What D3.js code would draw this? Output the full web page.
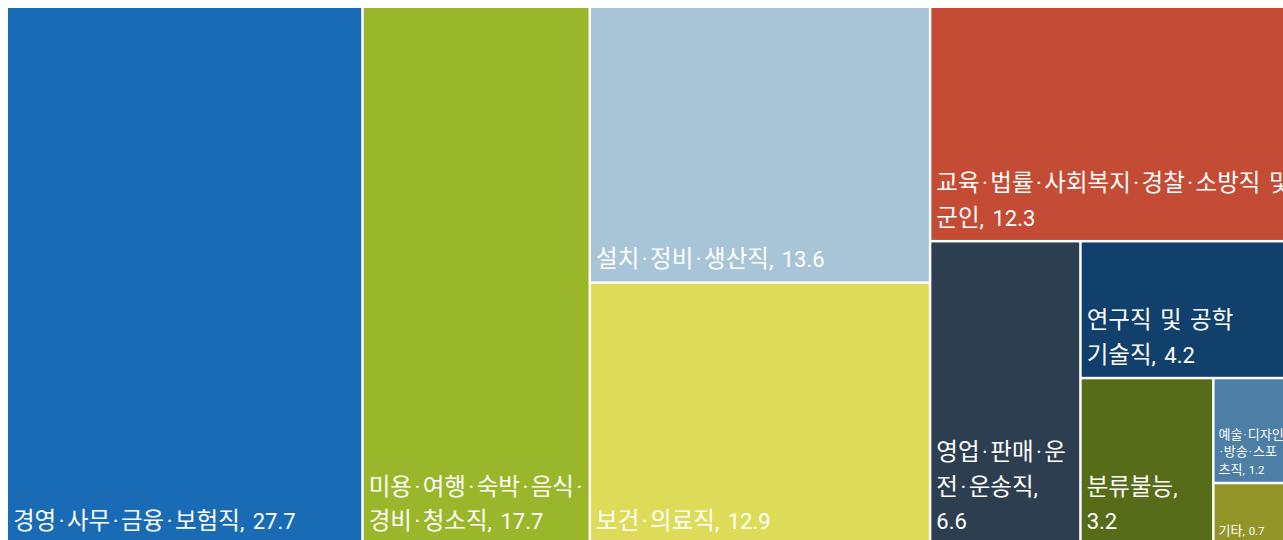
<!DOCTYPE html>
<html>
<head>
<meta charset="utf-8">
<script src="https://cdn.jsdelivr.net/npm/d3@7"></script>
<style>
  html, body { margin: 0; padding: 0; background: #fff; overflow: hidden; }
  svg { display: block; }
  text { font-family: Roboto, "Noto Sans CJK KR", sans-serif; fill: #fff; white-space: pre; }
</style>
</head>
<body>
<svg id="chart" width="1283" height="540"></svg>
<script>
// 직업군별 비율 (%)
const categories = [
  "경영·사무·금융·보험직",
  "미용·여행·숙박·음식·경비·청소직",
  "설치·정비·생산직",
  "보건·의료직",
  "교육·법률·사회복지·경찰·소방직 및 군인",
  "영업·판매·운전·운송직",
  "연구직 및 공학기술직",
  "분류불능",
  "예술·디자인·방송·스포츠직",
  "기타"
];
const values = [27.7, 17.7, 13.6, 12.9, 12.3, 6.6, 4.2, 3.2, 1.2, 0.7];
const colors = [
  "#1a6bb5", "#9ab62a", "#a8c4d7", "#dddb58", "#c44b34",
  "#2d3e50", "#11406d", "#566c18", "#4d7ea6", "#929428"
];
// 셀 폭에 맞춘 이름 줄바꿈
const labelRows = [
  ["경영·사무·금융·보험직"],
  ["미용·여행·숙박·음식·", "경비·청소직"],
  ["설치·정비·생산직"],
  ["보건·의료직"],
  ["교육·법률·사회복지·경찰·소방직 및", "군인"],
  ["영업·판매·운", "전·운송직"],
  ["연구직 및 공학", "기술직"],
  ["분류불능"],
  ["예술·디자인", "·방송·스포", "츠직"],
  ["기타"]
];

const FONT = 'Roboto, "Noto Sans CJK KR", sans-serif';
const svg = d3.select("#chart");
const W = 1283, H = 535, offset = 8;

const root = d3.hierarchy({
  children: categories.map((name, i) => ({
    name, value: values[i], color: colors[i], rows: labelRows[i]
  }))
}).sum(d => d.value || 0);

d3.treemap()
  .tile(d3.treemapBinary)
  .size([W, H])
  .paddingInner(2.5)
  .round(false)(root);

const g = svg.append("g").attr("transform", `translate(${offset},${offset})`);

const cell = g.selectAll("g.cell")
  .data(root.leaves())
  .join("g")
  .attr("class", "cell");

cell.append("rect")
  .attr("x", d => d.x0)
  .attr("y", d => d.y0)
  .attr("width", d => d.x1 - d.x0)
  .attr("height", d => d.y1 - d.y0)
  .attr("fill", d => d.data.color);

// Text styles: Hangul is set a little larger than digits/punctuation,
// and the middle dots and spaces get some extra air.
const LARGE = { fs: 22, hs: 23.5, dotGap: 2.5, spGap: 3, lineH: 34.5, bottom: 14, padX: 5 };
const SMALL = { fs: 11.5, hs: 13, dotGap: 1.1, spGap: 1, lineH: 17.5, bottom: 8, padX: 4 };

const isHangul = ch => /[\u1100-\u11FF\u3130-\u318F\uAC00-\uD7AF]/.test(ch);
const kindOf = ch => ch === "·" ? "dot" : ch === " " ? "sp" : isHangul(ch) ? "h" : "o";

function toRuns(str) {
  const runs = [];
  for (const ch of str) {
    const k = kindOf(ch);
    const last = runs[runs.length - 1];
    if (last && last.kind === k && k !== "dot" && k !== "sp") last.t += ch;
    else runs.push({ t: ch, kind: k });
  }
  return runs;
}

const ctx = document.createElement("canvas").getContext("2d");
function measure(str, st) {
  let w = 0;
  for (const r of toRuns(str)) {
    ctx.font = `${r.kind === "h" ? st.hs : st.fs}px ${FONT}`;
    w += ctx.measureText(r.t).width;
    if (r.kind === "dot") w += 2 * st.dotGap;
    if (r.kind === "sp") w += st.spGap;
  }
  return w;
}

function drawRow(textSel, str, x, y, st) {
  let pendingDx = 0;
  toRuns(str).forEach((r, i) => {
    const ts = textSel.append("tspan")
      .attr("font-size", r.kind === "h" ? st.hs : st.fs)
      .text(r.t);
    if (i === 0) ts.attr("x", x).attr("y", y);
    let dx = pendingDx;
    pendingDx = 0;
    if (r.kind === "dot") { dx += st.dotGap; pendingDx = st.dotGap; }
    if (r.kind === "sp") pendingDx = st.spGap;
    if (dx) ts.attr("dx", dx);
  });
}

cell.each(function (d) {
  const w = d.x1 - d.x0;
  const st = w < 100 ? SMALL : LARGE;
  const valueText = String(d.data.value);

  // The value follows the name on its last row when there is room, otherwise it gets a row of its own.
  const rows = d.data.rows.slice();
  const lastRow = rows[rows.length - 1] + ",";
  if (measure(lastRow + " " + valueText, st) <= w - 20) {
    rows[rows.length - 1] = lastRow + " " + valueText;
  } else {
    rows[rows.length - 1] = lastRow;
    rows.push(valueText);
  }

  const text = d3.select(this).append("text");
  const lastBaseline = d.y1 - st.bottom;
  rows.forEach((row, i) => {
    drawRow(text, row, d.x0 + st.padX, lastBaseline - (rows.length - 1 - i) * st.lineH, st);
  });
});
</script>
</body>
</html>
